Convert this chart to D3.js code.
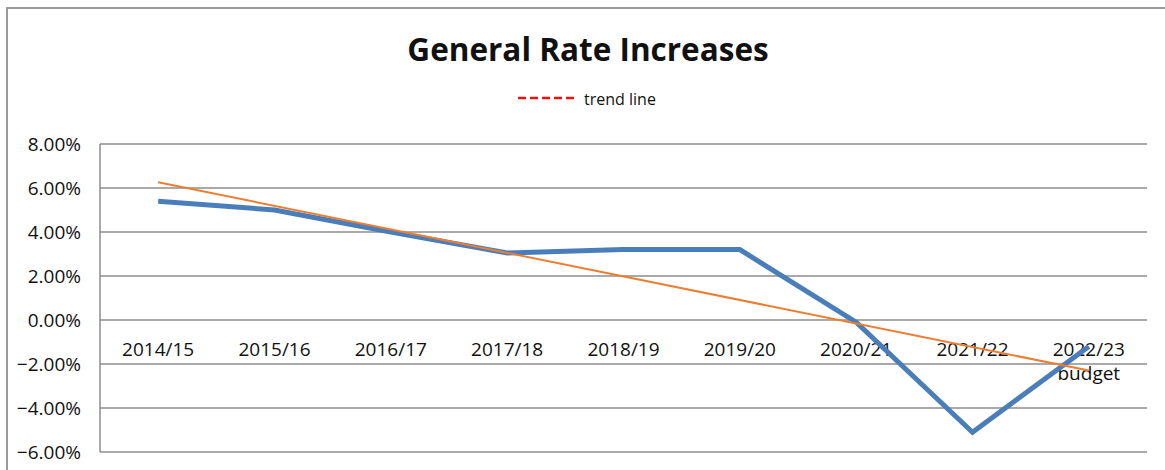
<!DOCTYPE html>
<html>
<head>
<meta charset="utf-8">
<script src="https://cdn.jsdelivr.net/npm/d3@7"></script>
<style>
  body { margin: 0; background: #fff; }
  text { font-family: "Open Sans", sans-serif; fill: #111; }
</style>
</head>
<body>
<div id="chart"></div>
<script>
// categories and values
var years = ["2014/15", "2015/16", "2016/17", "2017/18", "2018/19", "2019/20", "2020/21", "2021/22", "2022/23"];
var rates = [5.4, 5.0, 4.0, 3.05, 3.2, 3.2, -0.1, -5.1, -1.2];
// trend line end points (first and last category)
var trendYears = ["2014/15", "2022/23"];
var trendRates = [6.26, -2.3];
var yTicks = [8, 6, 4, 2, 0, -2, -4, -6];

var width = 1165, height = 470;
var plotLeft = 100, plotRight = 1147, plotTop = 144, plotBottom = 452;

var svg = d3.select("#chart").append("svg")
  .attr("width", width).attr("height", height);

// outer chart border (left + top visible)
svg.append("path")
  .attr("d", "M7," + height + "V8H" + width)
  .attr("fill", "none").attr("stroke", "#9a9a9a").attr("stroke-width", 2);

var x = d3.scaleBand().domain(years).range([plotLeft, plotRight]);
var y = d3.scaleLinear().domain([-6, 8]).range([plotBottom, plotTop]);

function cx(d) { return x(d) + x.bandwidth() / 2; }

// gridlines
svg.append("g").selectAll("line").data(yTicks).enter().append("line")
  .attr("x1", plotLeft).attr("x2", plotRight)
  .attr("y1", function (d) { return y(d); }).attr("y2", function (d) { return y(d); })
  .attr("stroke", "#8c8c8c").attr("stroke-width", 1.5);

// value axis line
svg.append("line")
  .attr("x1", plotLeft).attr("x2", plotLeft)
  .attr("y1", plotTop).attr("y2", plotBottom)
  .attr("stroke", "#8c8c8c").attr("stroke-width", 1.5);

// y tick labels
svg.append("g").selectAll("text").data(yTicks).enter().append("text")
  .attr("x", 81).attr("y", function (d) { return y(d); })
  .attr("dy", "0.35em").attr("text-anchor", "end")
  .style("font-size", "19px")
  .text(function (d) { return d3.format(".2f")(d) + "%"; });

// category labels
var cat = svg.append("g").selectAll("text").data(years).enter().append("text")
  .attr("x", function (d) { return cx(d); })
  .attr("y", y(0) + 36)
  .attr("text-anchor", "middle")
  .style("font-size", "19px");
cat.append("tspan").text(function (d) { return d; });
cat.filter(function (d, i) { return i === years.length - 1; })
  .append("tspan").attr("x", function (d) { return cx(d); }).attr("dy", 24).text("budget");

// series line
var line = d3.line().x(function (d) { return cx(d[0]); }).y(function (d) { return y(d[1]); });

svg.append("path")
  .datum(d3.zip(years, rates))
  .attr("d", line)
  .attr("fill", "none").attr("stroke", "#4a7ebb").attr("stroke-width", 5)
  .attr("stroke-linejoin", "miter");

// trend line
svg.append("path")
  .datum(d3.zip(trendYears, trendRates))
  .attr("d", line)
  .attr("fill", "none").attr("stroke", "#ed7d31").attr("stroke-width", 2);

// title
svg.append("text")
  .attr("x", 588).attr("y", 61)
  .attr("text-anchor", "middle")
  .style("font-size", "31.5px").style("font-weight", "bold")
  .text("General Rate Increases");

// legend
svg.append("line")
  .attr("x1", 518).attr("x2", 577).attr("y1", 98).attr("y2", 98)
  .attr("stroke", "#ee1111").attr("stroke-width", 2.5)
  .attr("stroke-dasharray", "8,4");
svg.append("text")
  .attr("x", 584).attr("y", 105)
  .style("font-size", "16px")
  .text("trend line");
</script>
</body>
</html>
